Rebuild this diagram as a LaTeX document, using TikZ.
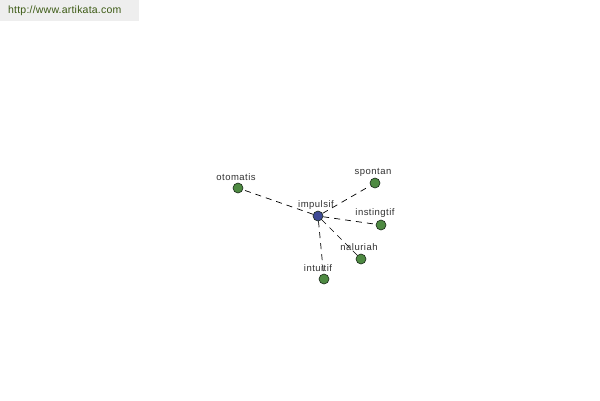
\documentclass[tikz,border=0pt]{standalone}
\usepackage{fontspec}
\setmainfont{Liberation Sans}
\usepackage{tikz}
\usetikzlibrary{positioning}
\definecolor{cgreen}{RGB}{78,138,66}
\definecolor{cblue}{RGB}{62,74,150}
\definecolor{cedge}{RGB}{25,40,25}
\definecolor{clab}{RGB}{50,50,50}
\definecolor{cbg0}{RGB}{238,238,238}
\definecolor{curl}{RGB}{60,90,20}
\tikzset{leaf/.style={circle, draw=cedge, fill=cgreen, line width=0.6pt, minimum size=10pt, inner sep=0pt}}
\tikzset{hub/.style={leaf, fill=cblue}}
\tikzset{lab/.style={draw=none, fill=none, font=\fontsize{9.5}{10}\selectfont\addfontfeature{LetterSpace=5}, text=clab, inner sep=1pt}}
\tikzset{link/.style={line width=0.7pt, dash pattern=on 6pt off 5pt}}

\begin{document}
\begin{tikzpicture}[x=1pt, y=-1pt]
        \useasboundingbox[fill=white] (0,0) rectangle (600,400);

        %%% HEADER %%%
        \fill[cbg0] (0,0) rectangle (139,21);
        \node[lab, text=curl, font=\fontsize{10.5}{11}\selectfont\addfontfeature{LetterSpace=2}, anchor=west] (url) at (7,11) {http://www.artikata.com};

        %%% NODES %%%
        \node[hub] (imp) at (318,216) {};
        \node[leaf] (oto) at (238,188) {};
        \node[leaf] (spo) at (375,183) {};
        \node[leaf] (ins) at (381,225) {};
        \node[leaf] (nal) at (361,259) {};
        \node[leaf] (int) at (324,279) {};

        %%% LABELS %%%
        \node[lab] (implab) at (316,205) {impulsif};
        \node[lab] (otolab) at (236,177) {otomatis};
        \node[lab] (spolab) at (373,172) {spontan};
        \node[lab] (inslab) at (375,213) {instingtif};
        \node[lab] (nallab) at (359,247) {naluriah};
        \node[lab] (intlab) at (318,268) {intuitif};

        %%% EDGES %%%
        \draw[link] (imp) -- (oto);
        \draw[link] (imp) -- (spo);
        \draw[link] (imp) -- (ins);
        \draw[link] (imp) -- (nal);
        \draw[link] (imp) -- (int);
    \end{tikzpicture}
\end{document}
